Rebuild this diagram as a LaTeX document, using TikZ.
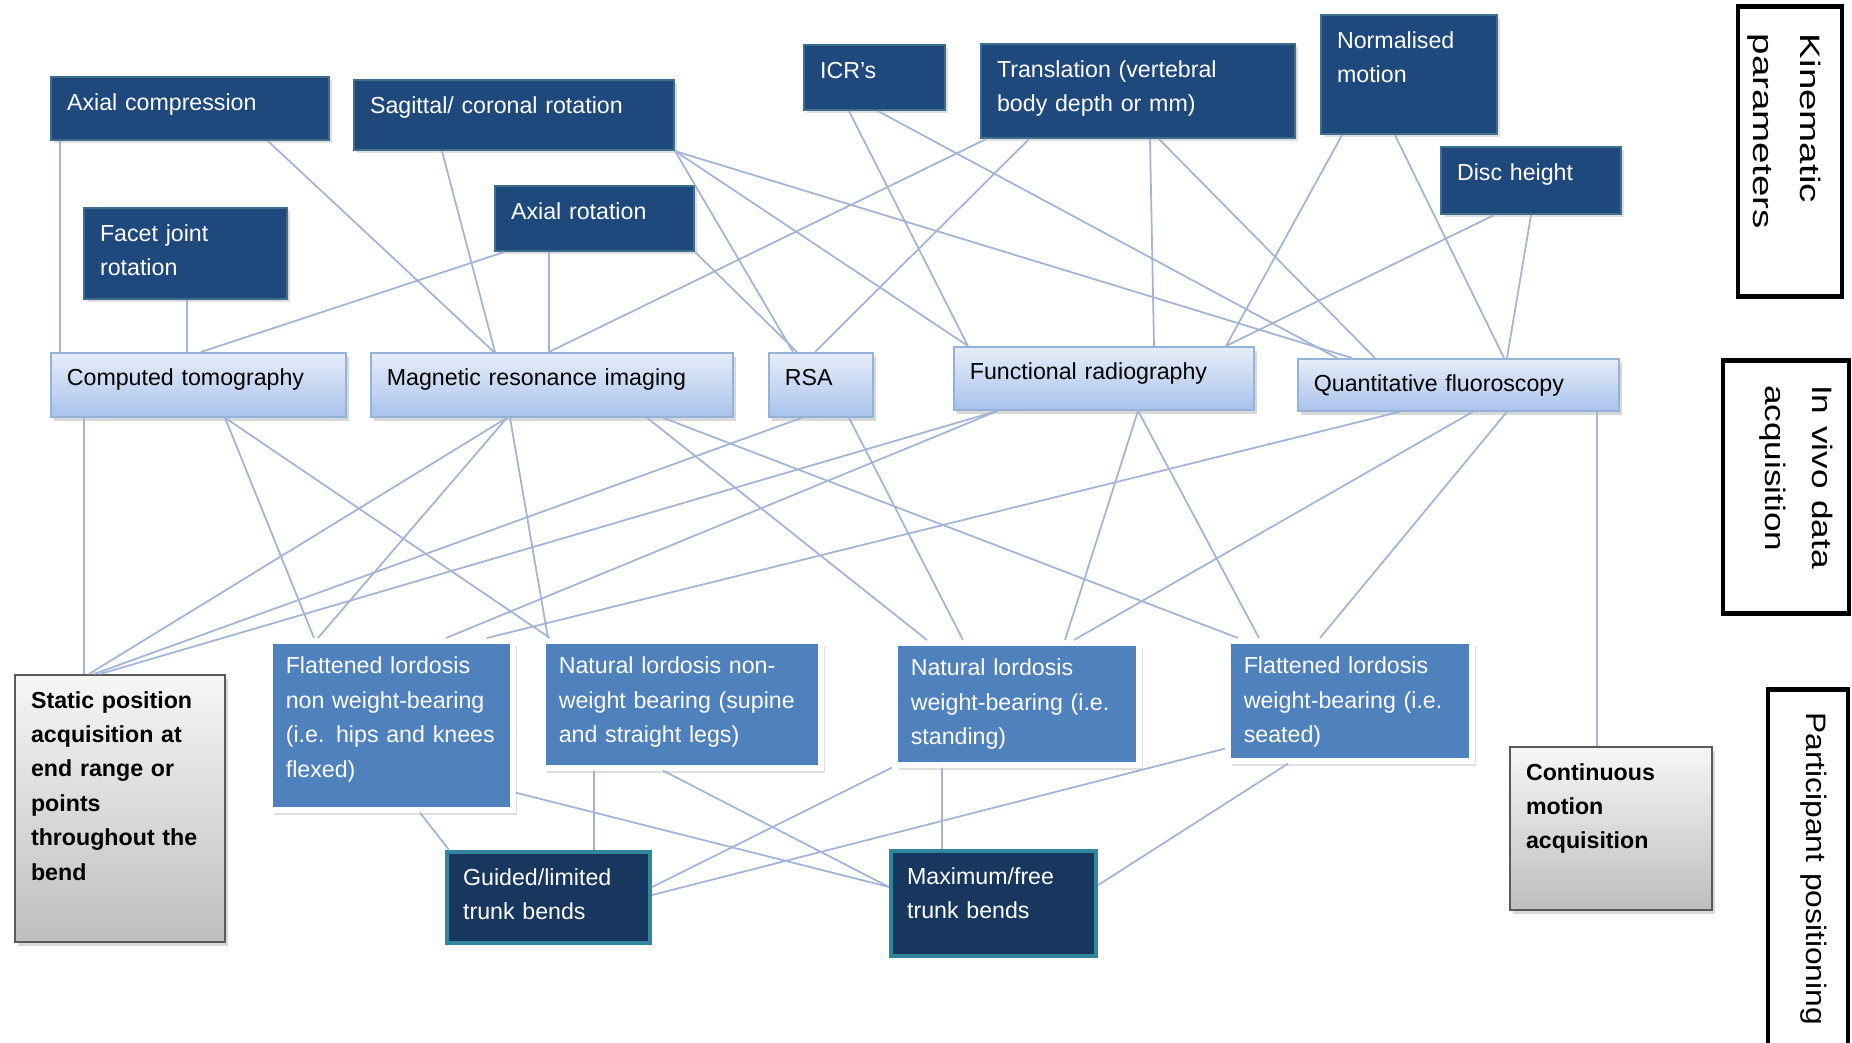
\documentclass[tikz,border=0pt]{standalone}
\usepackage{fontspec}
\setmainfont{Liberation Sans}
\usetikzlibrary{shadows}

\definecolor{kinblue}{RGB}{31,73,125}
\definecolor{kinedge}{RGB}{61,110,140}
\definecolor{trunkblue}{RGB}{23,55,94}
\definecolor{trunkedge}{RGB}{49,133,156}
\definecolor{posblue}{RGB}{79,129,189}
\definecolor{vivotop}{RGB}{230,237,249}
\definecolor{vivobot}{RGB}{169,195,236}
\definecolor{vivoedge}{RGB}{149,179,215}
\definecolor{greytop}{RGB}{246,246,246}
\definecolor{greybot}{RGB}{190,190,190}
\definecolor{greyedge}{RGB}{90,90,90}
\definecolor{linkcol}{RGB}{162,181,214}

\newcommand\boxfont{\fontsize{6.6}{9.8}\selectfont}
\newcommand\sidefont{\fontsize{8}{13.3}\selectfont}

\begin{document}
\begin{tikzpicture}

\tikzstyle{every node} = [rectangle, anchor=north west, align=left, font=\boxfont, inner xsep=.16cm, inner ysep=0pt, text height=.33cm]
\tikzstyle{kinbox} = [fill=kinblue, draw=kinedge, line width=.6pt, text=white, drop shadow={shadow xshift=.03cm, shadow yshift=-.03cm, opacity=.25}]
\tikzstyle{vivobox} = [top color=vivotop, bottom color=vivobot, draw=vivoedge, line width=.5pt, drop shadow={shadow xshift=.03cm, shadow yshift=-.04cm, opacity=.3}]
\tikzstyle{posbox} = [fill=posblue, draw=white, line width=1.6pt, text=white, drop shadow={shadow xshift=.04cm, shadow yshift=-.05cm, opacity=.25}]
\tikzstyle{trunkbox} = [fill=trunkblue, draw=trunkedge, line width=1.2pt, text=white]
\tikzstyle{acqbox} = [top color=greytop, bottom color=greybot, draw=greyedge, line width=.6pt, font=\boxfont\bfseries, drop shadow={shadow xshift=.03cm, shadow yshift=-.04cm, opacity=.3}]
\tikzstyle{sidelab} = [draw, line width=1.4pt, anchor=west, rotate=-90, font=\sidefont, inner xsep=.2cm]
\tikzstyle{conn} = [draw=linkcol, line width=.5pt]

\useasboundingbox[fill=white] (0,0) rectangle (18.52,-10.43);

\node[kinbox, text width=2.46cm, text depth=.30cm] (axcomp) at (0.50,-0.76) {Axial compression};
\node[kinbox, text width=2.88cm, text depth=.37cm] (sagrot) at (3.53,-0.79) {Sagittal/ coronal rotation};
\node[kinbox, text width=1.71cm, text depth=.58cm] (facet) at (0.83,-2.07) {Facet joint\\rotation};
\node[kinbox, text width=1.67cm, text depth=.32cm] (axrot) at (4.94,-1.85) {Axial rotation};
\node[kinbox, text width=1.09cm, text depth=.32cm] (icr) at (8.03,-0.44) {ICR's};
\node[kinbox, text width=2.82cm, text depth=.61cm] (transl) at (9.80,-0.43) {Translation (vertebral\\body depth or mm)};
\node[kinbox, text width=1.44cm, text depth=.86cm] (normot) at (13.20,-0.14) {Normalised\\motion};
\node[kinbox, text width=1.48cm, text depth=.34cm] (disc) at (14.40,-1.46) {Disc height};

\node[vivobox, text width=2.63cm, text depth=.31cm] (ct) at (0.50,-3.52) {Computed tomography};
\node[vivobox, text width=3.30cm, text depth=.31cm] (mri) at (3.70,-3.52) {Magnetic resonance imaging};
\node[vivobox, text width=.72cm, text depth=.31cm] (rsa) at (7.68,-3.52) {RSA};
\node[vivobox, text width=2.68cm, text depth=.30cm] (fr) at (9.53,-3.46) {Functional radiography};
\node[vivobox, text width=2.89cm, text depth=.19cm] (qf) at (12.97,-3.58) {Quantitative fluoroscopy};

\node[acqbox, text width=1.78cm, text depth=2.34cm] (static) at (0.14,-6.74) {Static position\\acquisition at\\end range or\\points\\throughout the\\bend};
\node[posbox, text width=2.11cm, text depth=1.36cm] (fnwb) at (2.67,-6.38) {Flattened lordosis\\non weight-bearing\\(i.e. hips and knees\\flexed)};
\node[posbox, text width=2.46cm, text depth=.94cm] (nnwb) at (5.40,-6.38) {Natural lordosis non-\\weight bearing (supine\\and straight legs)};
\node[posbox, text width=2.12cm, text depth=.89cm] (nwb) at (8.92,-6.40) {Natural lordosis\\weight-bearing (i.e.\\standing)};
\node[posbox, text width=2.12cm, text depth=.87cm] (fwb) at (12.25,-6.38) {Flattened lordosis\\weight-bearing (i.e.\\seated)};
\node[acqbox, text width=1.70cm, text depth=1.30cm] (cont) at (15.09,-7.46) {Continuous\\motion\\acquisition};

\node[trunkbox, text width=1.71cm, text depth=.58cm] (guided) at (4.45,-8.50) {Guided/limited\\trunk bends};
\node[trunkbox, text width=1.73cm, text depth=.72cm] (maxfree) at (8.89,-8.49) {Maximum/free\\trunk bends};

\node[sidelab, xscale=1.37, text width=1.72cm, text height=.42cm, text depth=.62cm] (kinlab) at (17.90,-0.03) {Kinematic\\parameters};
\node[sidelab, xscale=1.25, text width=1.63cm, text height=.37cm, text depth=.89cm] (vivolab) at (17.86,-3.57) {In vivo data\\acquisition};
\node[sidelab, xscale=1.13, text width=2.87cm, text height=.42cm, text depth=.38cm] (partlab) at (18.08,-6.87) {Participant positioning};

\draw[conn] ([xshift=.10cm]axcomp.south west) -- ([xshift=.10cm]ct.north west);
\draw[conn] ([xshift=2.18cm]axcomp.south west) -- ([xshift=1.24cm]mri.north west);
\draw[conn] ([xshift=.89cm]sagrot.south west) -- ([xshift=1.25cm]mri.north west);
\draw[conn] (sagrot.south east) -- ([xshift=.25cm]rsa.north west);
\draw[conn] (sagrot.south east) -- ([xshift=.15cm]fr.north west);
\draw[conn] (sagrot.south east) -- ([xshift=.55cm]qf.north west);
\draw[conn] ([xshift=1.04cm]facet.south west) -- ([xshift=1.37cm]ct.north west);
\draw[conn] ([xshift=.10cm]axrot.south west) -- ([xshift=1.51cm]ct.north west);
\draw[conn] ([xshift=.55cm]axrot.south west) -- ([xshift=1.79cm]mri.north west);
\draw[conn] (axrot.south east) -- ([xshift=.29cm]rsa.north west);
\draw[conn] ([xshift=.46cm]icr.south west) -- ([xshift=.15cm]fr.north west);
\draw[conn] ([xshift=.75cm]icr.south west) -- ([xshift=.40cm]qf.north west);
\draw[conn] ([xshift=.06cm]transl.south west) -- ([xshift=1.79cm]mri.north west);
\draw[conn] ([xshift=.49cm]transl.south west) -- ([xshift=.47cm]rsa.north west);
\draw[conn] ([xshift=1.70cm]transl.south west) -- ([xshift=2.01cm]fr.north west);
\draw[conn] ([xshift=1.79cm]transl.south west) -- ([xshift=.78cm]qf.north west);
\draw[conn] ([xshift=.22cm]normot.south west) -- ([xshift=2.73cm]fr.north west);
\draw[conn] ([xshift=.75cm]normot.south west) -- ([xshift=2.07cm]qf.north west);
\draw[conn] ([xshift=.54cm]disc.south west) -- ([xshift=2.73cm]fr.north west);
\draw[conn] ([xshift=.91cm]disc.south west) -- ([xshift=2.10cm]qf.north west);

\draw[conn] ([xshift=.34cm]ct.south west) -- ([xshift=.70cm]static.north west);
\draw[conn] ([xshift=1.75cm]ct.south west) -- ([xshift=.47cm]fnwb.north west);
\draw[conn] ([xshift=1.75cm]ct.south west) -- ([xshift=.10cm]nnwb.north west);
\draw[conn] ([xshift=1.37cm]mri.south west) -- ([xshift=.75cm]static.north west);
\draw[conn] ([xshift=1.37cm]mri.south west) -- ([xshift=.51cm]fnwb.north west);
\draw[conn] ([xshift=1.40cm]mri.south west) -- ([xshift=.08cm]nnwb.north west);
\draw[conn] ([xshift=2.77cm]mri.south west) -- ([xshift=.35cm]nwb.north west);
\draw[conn] ([xshift=2.93cm]mri.south west) -- ([xshift=.13cm]fwb.north west);
\draw[conn] ([xshift=.34cm]rsa.south west) -- ([xshift=.80cm]static.north west);
\draw[conn] ([xshift=.81cm]rsa.south west) -- ([xshift=.71cm]nwb.north west);
\draw[conn] ([xshift=.45cm]fr.south west) -- ([xshift=.86cm]static.north west);
\draw[conn] ([xshift=.45cm]fr.south west) -- ([xshift=1.79cm]fnwb.north west);
\draw[conn] ([xshift=1.85cm]fr.south west) -- ([xshift=1.73cm]nwb.north west);
\draw[conn] ([xshift=1.85cm]fr.south west) -- ([xshift=.34cm]fwb.north west);
\draw[conn] ([xshift=1.03cm]qf.south west) -- ([xshift=2.20cm]fnwb.north west);
\draw[conn] ([xshift=1.76cm]qf.south west) -- ([xshift=1.82cm]nwb.north west);
\draw[conn] ([xshift=2.10cm]qf.south west) -- ([xshift=.95cm]fwb.north west);
\draw[conn] ([xshift=3.00cm]qf.south west) -- ([xshift=.88cm]cont.north west);

\draw[conn] ([xshift=1.53cm]fnwb.south west) -- ([xshift=.04cm]guided.north west);
\draw[conn] ([yshift=.20cm]fnwb.south east) -- ([yshift=-.38cm]maxfree.north west);
\draw[conn] ([xshift=.54cm]nnwb.south west) -- ([xshift=1.49cm]guided.north west);
\draw[conn] ([xshift=1.23cm]nnwb.south west) -- ([yshift=-.38cm]maxfree.north west);
\draw[conn] (nwb.south west) -- ([yshift=-.37cm]guided.north east);
\draw[conn] ([xshift=.50cm]nwb.south west) -- ([xshift=.53cm]maxfree.north west);
\draw[conn] ([yshift=.15cm]fwb.south west) -- ([yshift=-.45cm]guided.north east);
\draw[conn] ([xshift=.63cm]fwb.south west) -- ([yshift=-.36cm]maxfree.north east);

\end{tikzpicture}
\end{document}
